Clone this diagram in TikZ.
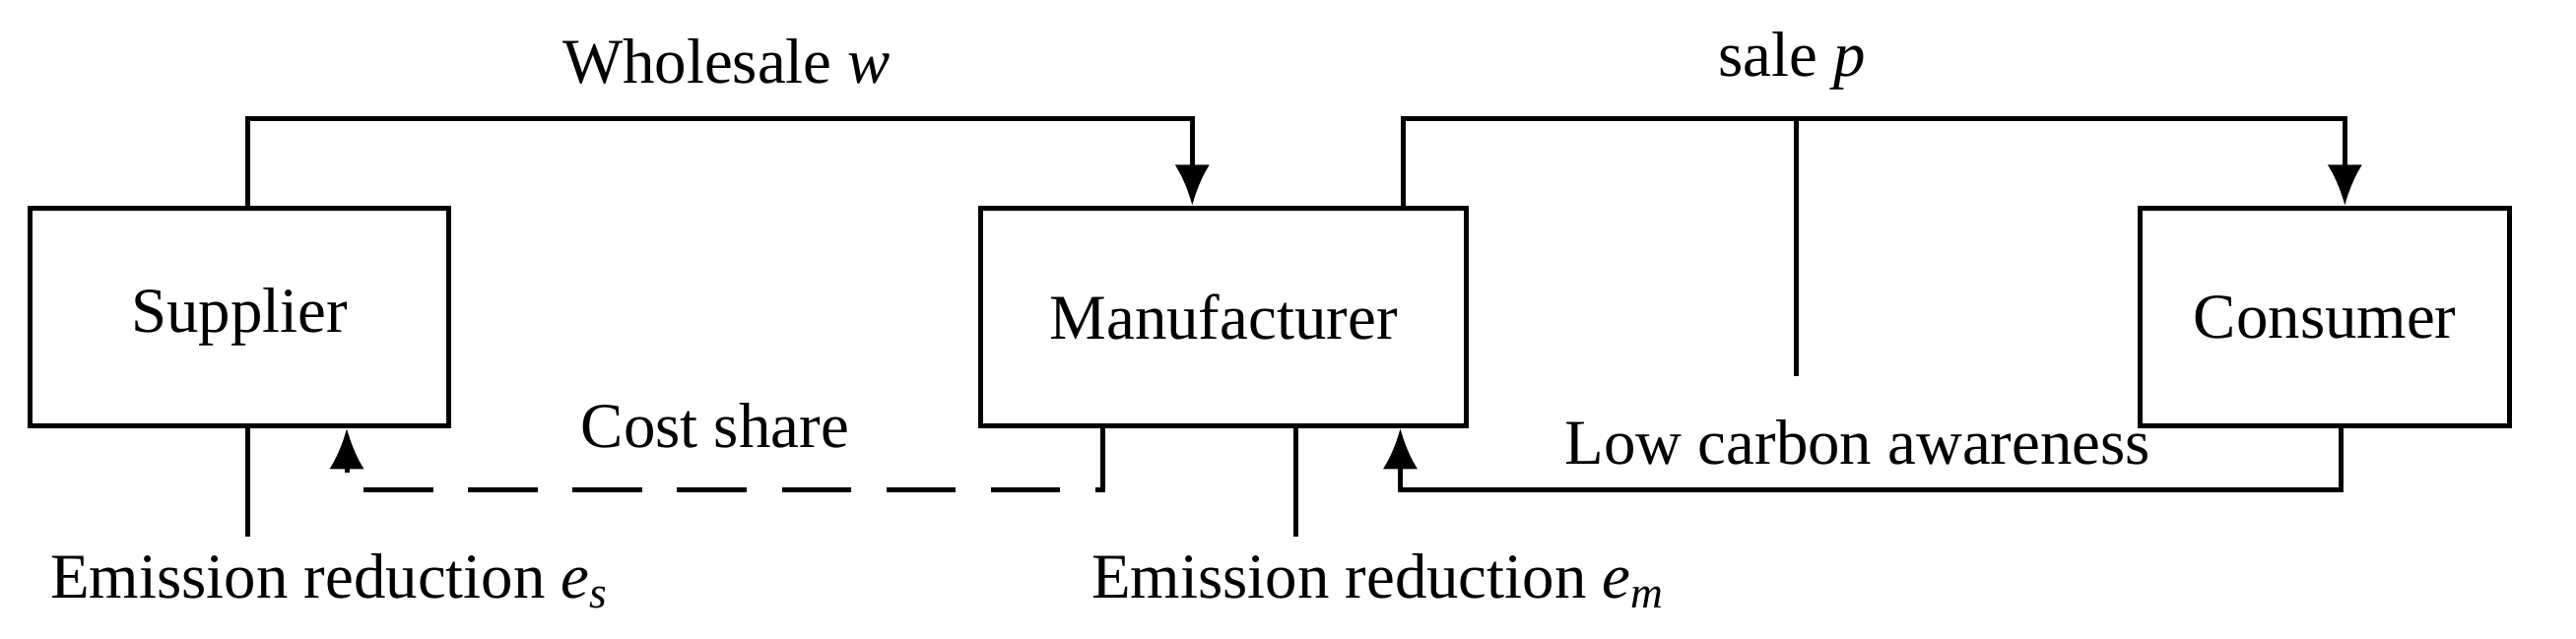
\documentclass[tikz,border=0pt]{standalone}
\usepackage{fontspec}
\setmainfont{Liberation Serif}
\usetikzlibrary{positioning}
\begin{document}
\begin{tikzpicture}[x=0.01cm,y=-0.01cm,line width=0.85pt,
  box/.style={draw,minimum width=#1*0.01cm,minimum height=1.32cm,font=\fontsize{11}{13}\selectfont},
  lbl/.style={font=\fontsize{11}{13}\selectfont,inner sep=0pt},
  arr/.style={-{Latex[length=7pt,width=6pt]}}]
\useasboundingbox (0,0) rectangle (1560,387);
\usetikzlibrary{arrows.meta}
% boxes
\node[box=254] (supp) at (145,192) {Supplier};
\node[box=294] (manu) at (741,192) {Manufacturer};
\node[box=224] (cons) at (1408,192) {Consumer};
% flow labels
\node[lbl] (wl) at (440,37) {Wholesale \textit{w}};
\node[lbl] (sl) at (1085,37) {sale \textit{p}};
\node[lbl] (cs) at (433,258) {Cost share};
\node[lbl] (lc) at (1125,268) {Low carbon awareness};
\node[lbl] (es) at (200,352) {Emission reduction \textit{e\textsubscript{s}}};
\node[lbl] (em) at (835,352) {Emission reduction \textit{e\textsubscript{m}}};
% coordinates
\coordinate (awa) at (1088,228);
\coordinate (esend) at (150,325);
\coordinate (emend) at (785,325);
% connectors
\draw[arr] (supp.north -| 150,0) |- (722,72) -- (manu.north -| 722,0);
\draw[arr] (manu.north -| 850,0) |- (1420,72) -- (cons.north -| 1420,0);
\draw (awa) -- (1088,72);
\draw[arr] (cons.south -| 1418,0) |- (848,297) -- (manu.south -| 848,0);
\draw[arr,dashed,dash pattern=on 12pt off 6pt] (manu.south -| 668,0) |- (210,297) -- (supp.south -| 210,0);
\draw (supp.south -| esend) -- (esend);
\draw (manu.south -| emend) -- (emend);
\end{tikzpicture}
\end{document}
